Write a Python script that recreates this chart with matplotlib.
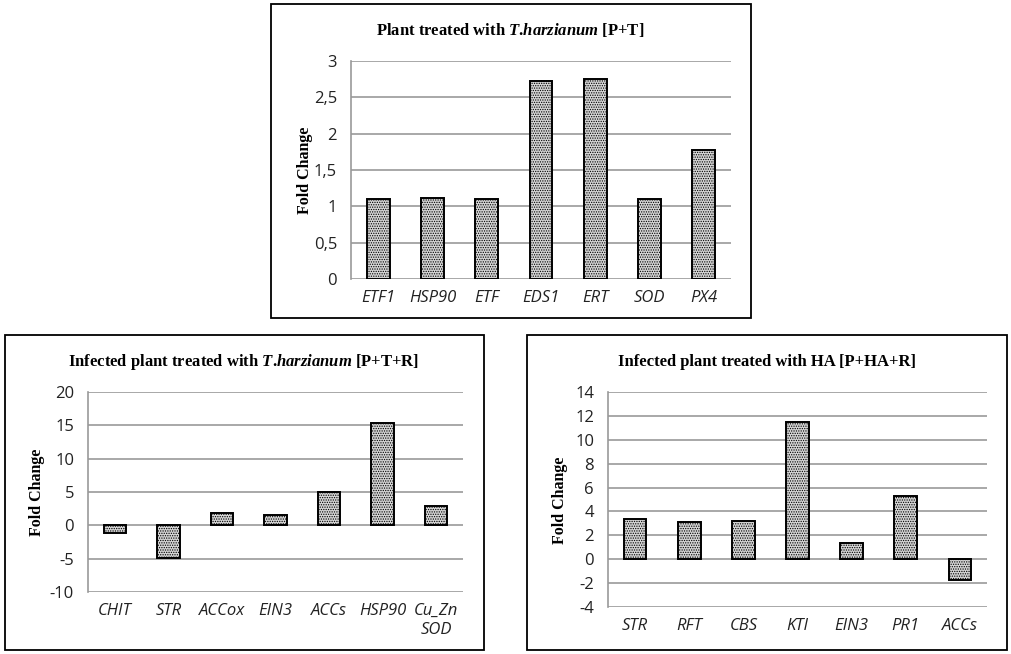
import matplotlib
matplotlib.use("Agg")
import matplotlib.pyplot as plt
from matplotlib.patches import Rectangle
import numpy as np

plt.rcParams['mathtext.fontset'] = 'custom'
plt.rcParams['mathtext.it'] = 'Liberation Serif:italic:bold'
plt.rcParams['mathtext.rm'] = 'Liberation Serif:bold'
plt.rcParams['hatch.color'] = '#808080'
plt.rcParams['hatch.linewidth'] = 0.6

# data
genes_pt = ["ETF1", "HSP90", "ETF", "EDS1", "ERT", "SOD", "PX4"]
fold_pt = [1.1, 1.12, 1.1, 2.73, 2.75, 1.1, 1.78]

genes_ptr = ["CHIT", "STR", "ACCox", "EIN3", "ACCs", "HSP90", "Cu_Zn\nSOD"]
fold_ptr = [-1.2, -4.9, 1.8, 1.5, 5.0, 15.3, 2.9]

genes_phr = ["STR", "RFT", "CBS", "KTI", "EIN3", "PR1", "ACCs"]
fold_phr = [3.4, 3.1, 3.2, 11.5, 1.4, 5.3, -1.7]

W, H = 1011, 654
fig = plt.figure(figsize=(W / 100, H / 100), dpi=100)

tick_font = "Open Sans"
serif = "Liberation Serif"


def px_axes(l, t, r, b):
    return fig.add_axes([l / W, (H - b) / H, (r - l) / W, (b - t) / H])


def frame(l, t, r, b):
    fig.patches.append(Rectangle((l / W, (H - b) / H), (r - l) / W, (b - t) / H,
                                 transform=fig.transFigure, fill=False,
                                 edgecolor="black", linewidth=1.3))


def draw(ax, genes, vals, ymin, ymax, step, comma=False):
    x = np.arange(len(genes))
    ax.bar(x, vals, width=0.42, facecolor="#d4d4d4", edgecolor="black",
           linewidth=1.4, hatch=".......", zorder=3)
    ax.set_xlim(-0.5, len(genes) - 0.5)
    ax.set_ylim(ymin, ymax)
    ticks = np.arange(ymin, ymax + step / 2, step)
    ax.set_yticks(ticks)
    if comma:
        ax.set_yticklabels([("%g" % t).replace(".", ",") for t in ticks])
    else:
        ax.set_yticklabels(["%g" % t for t in ticks])
    ax.set_xticks(x)
    ax.set_xticklabels(genes, style="italic")
    for lab in ax.get_xticklabels() + ax.get_yticklabels():
        lab.set_fontfamily(tick_font)
        lab.set_fontsize(12)
        lab.set_color("#222222")
    ax.tick_params(length=0)
    ax.tick_params(axis="x", pad=8)
    ax.tick_params(axis="y", pad=10)
    ax.grid(axis="y", color="#999999", linewidth=1.2, zorder=0)
    for s in ["top", "right", "bottom"]:
        ax.spines[s].set_visible(False)
    ax.spines["left"].set_color("#999999")
    ax.spines["left"].set_linewidth(1.2)


title_kw = dict(ha="center", va="center", family=serif, weight="bold", fontsize=12)
ylab_kw = dict(rotation=90, ha="center", va="center", family=serif,
               weight="bold", fontsize=11.5)

# top panel
frame(271, 4, 751, 318)
ax1 = px_axes(351, 61, 731, 279)
draw(ax1, genes_pt, fold_pt, 0, 3, 0.5, comma=True)
fig.text(510 / W, 1 - 30 / H, r"Plant treated with $T$.$harzianum$ [P+T]", **title_kw)
fig.text(305 / W, 1 - 170 / H, "Fold Change", **ylab_kw)

# bottom left
frame(5, 335, 484, 650)
ax2 = px_axes(88, 392, 463, 592)
draw(ax2, genes_ptr, fold_ptr, -10, 20, 5)
fig.text(244 / W, 1 - 362 / H, r"Infected plant treated with $T$.$harzianum$ [P+T+R]",
         **title_kw)
fig.text(37 / W, 1 - 492 / H, "Fold Change", **ylab_kw)

# bottom right
frame(527, 335, 1007, 650)
ax3 = px_axes(608, 392, 987, 607)
draw(ax3, genes_phr, fold_phr, -4, 14, 2)
fig.text(767 / W, 1 - 362 / H, "Infected plant treated with HA [P+HA+R]", **title_kw)
fig.text(560 / W, 1 - 500 / H, "Fold Change", **ylab_kw)

fig.savefig("out.png", dpi=100)
